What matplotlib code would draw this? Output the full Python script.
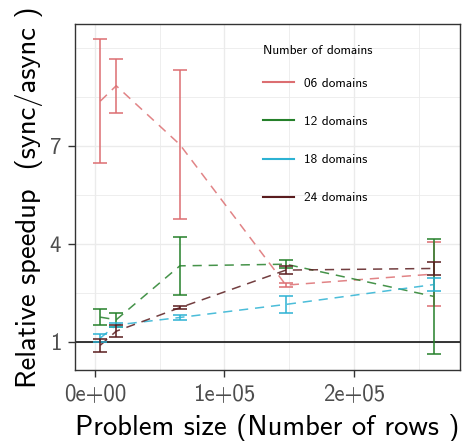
import matplotlib
matplotlib.use('Agg')
import matplotlib.pyplot as plt
from matplotlib.ticker import FixedLocator

plt.rcParams['font.family'] = ['cmss10', 'DejaVu Sans']
plt.rcParams['axes.unicode_minus'] = False

# problem sizes (rows)
sizes = [4096, 16384, 65536, 147456, 262144]

# relative speedup, mean and half-width of error bar
d06_mean = [8.37, 8.84, 7.04, 2.74, 3.08]
d06_err = [1.90, 0.82, 2.27, 0.07, 0.98]
d12_mean = [1.76, 1.68, 3.33, 3.38, 2.39]
d12_err = [0.25, 0.21, 0.89, 0.12, 1.76]
d18_mean = [1.12, 1.52, 1.75, 2.15, 2.76]
d18_err = [0.12, 0.05, 0.08, 0.27, 0.20]
d24_mean = [0.90, 1.33, 2.05, 3.20, 3.25]
d24_err = [0.20, 0.18, 0.05, 0.12, 0.20]

labels = ['06 domains', '12 domains', '18 domains', '24 domains']
colors = ['#dc6e71', '#25802a', '#2cb2d3', '#5a1c1e']
series = [(d06_mean, d06_err), (d12_mean, d12_err),
          (d18_mean, d18_err), (d24_mean, d24_err)]

xticks = [0, 100000, 200000]
xtick_labels = ['0e+00', '1e+05', '2e+05']
yticks = [1, 4, 7]

fig = plt.figure(figsize=(4.64, 4.41), dpi=100)
ax = fig.add_axes([0.1616, 0.161, 0.8298, 0.7846])

# grid like theme_bw
ax.xaxis.set_major_locator(FixedLocator(xticks))
ax.xaxis.set_minor_locator(FixedLocator([50000, 150000, 250000]))
ax.yaxis.set_major_locator(FixedLocator(yticks))
ax.yaxis.set_minor_locator(FixedLocator([2.5, 5.5, 8.5, 10]))
ax.grid(which='major', color='#ebebeb', linewidth=1.0, zorder=0)
ax.grid(which='minor', color='#ebebeb', linewidth=0.6, zorder=0)
ax.set_axisbelow(True)
ax.tick_params(which='minor', length=0)

ax.axhline(1, color='black', linewidth=1.1, zorder=1)

handles = []
for (m, e), c, lab in zip(series, colors, labels):
    ax.errorbar(sizes, m, yerr=e, fmt='none', ecolor=c, elinewidth=1.1,
                capsize=4.7, capthick=1.1, zorder=3)
    ax.plot(sizes, m, color=c, linewidth=1.1, dashes=(6, 4.5), alpha=0.85, zorder=2)
    h, = ax.plot([], [], color=c, linewidth=1.5, label=lab)
    handles.append(h)

ax.set_xlim(-15444, 281850)
ax.set_ylim(0.143, 10.73)
ax.set_xticks(xticks)
ax.set_xticklabels(xtick_labels)

for sp in ax.spines.values():
    sp.set_color('#333333')
    sp.set_linewidth(1.0)
ax.tick_params(which='major', length=5, width=1.0, color='#333333',
               labelcolor='#4d4d4d', labelsize=16.5, pad=5)

ax.set_xlabel('Problem size (Number of rows )', fontsize=20.6, labelpad=6)
ax.set_ylabel('Relative speedup  (sync/async )', fontsize=20.6, labelpad=5)

leg = ax.legend(handles=handles, title='Number of domains', loc='upper left',
                bbox_to_anchor=(0.475, 0.955), frameon=False, fontsize=9.6,
                title_fontsize=9.6, handlelength=2.33, handletextpad=0.75,
                labelspacing=1.93, borderaxespad=0)
leg._legend_box.align = 'left'
leg._legend_box.sep = 15  # tighter gap under the title

fig.savefig('out.png', dpi=100)
